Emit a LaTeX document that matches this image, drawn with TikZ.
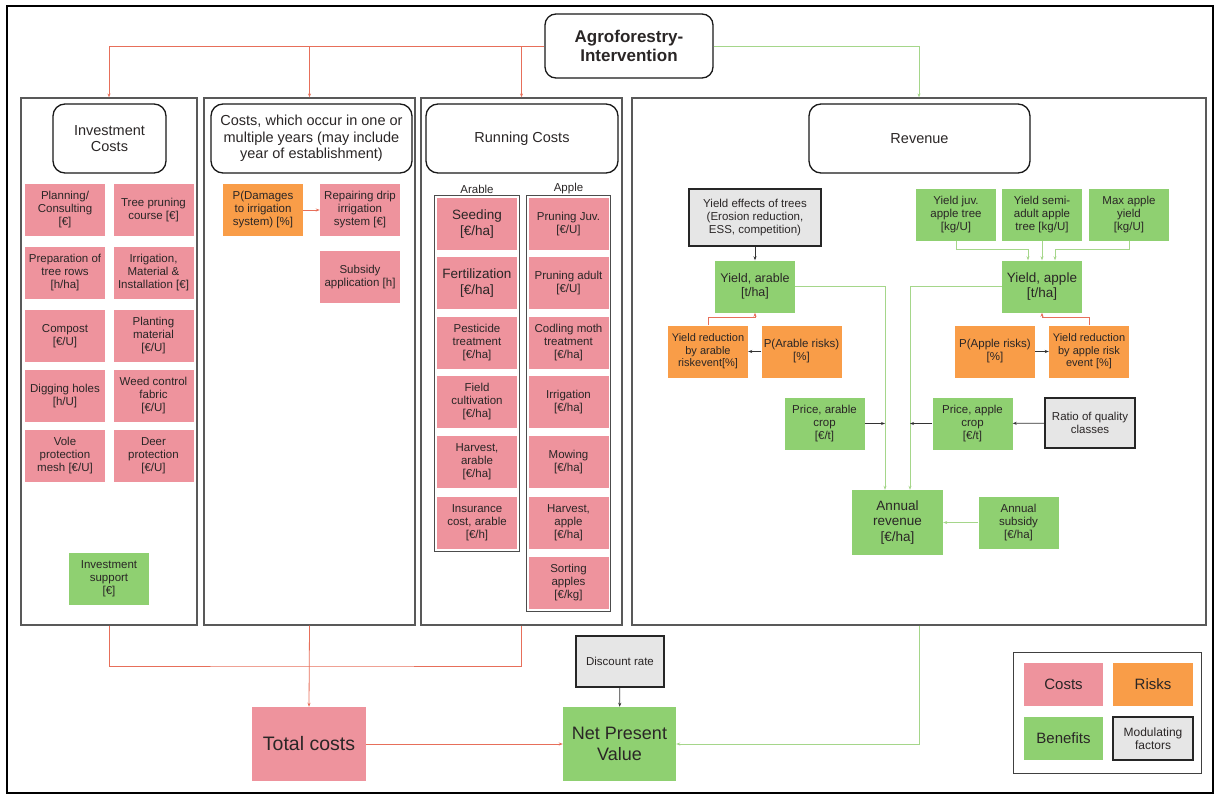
\documentclass[tikz,border=0pt]{standalone}
\usepackage{fontspec}
\setmainfont{Liberation Sans}
\usetikzlibrary{arrows.meta,positioning,fit}
\definecolor{costpink}{HTML}{EE939D}
\definecolor{riskorange}{HTML}{F99D48}
\definecolor{benefitgreen}{HTML}{8FD071}
\definecolor{modgray}{HTML}{E6E6E6}
\definecolor{linered}{HTML}{E76F5A}
\definecolor{linegreen}{HTML}{A5D68A}
\definecolor{boxtext}{HTML}{2A2626}
\tikzset{
  box/.style={minimum width=80pt, minimum height=52pt, inner sep=1pt, align=center, text=boxtext, font=\fontsize{11.5}{13}\selectfont},
  cost/.style={box, fill=costpink},
  risk/.style={box, fill=riskorange},
  benefit/.style={box, fill=benefitgreen},
  modul/.style={box, fill=modgray, draw=black!85, line width=1.6pt},
  heading/.style={draw=black!90, line width=1.3pt, rounded corners=12pt, align=center, text=boxtext, font=\fontsize{14.5}{16.5}\selectfont},
  panel/.style={draw=black!65, line width=1.2pt},
  group/.style={draw=black!70, line width=1pt, inner sep=2pt},
  grouplabel/.style={inner sep=1pt, text=boxtext, font=\fontsize{11.5}{13}\selectfont},
  big/.style={font=\fontsize{13.5}{15.5}\selectfont},
  redarrow/.style={linered, line width=0.8pt, -{Stealth[length=4pt,width=3pt]}},
  redline/.style={linered, line width=0.8pt},
  greenarrow/.style={linegreen, line width=1pt, -{Stealth[length=4pt,width=3pt]}},
  blackarrow/.style={black!80, line width=0.8pt, -{Stealth[length=4pt,width=3pt]}},
}
\begin{document}
\begin{tikzpicture}[x=1pt,y=-1pt]
\useasboundingbox (0,0) rectangle (1219,798);
\draw[line width=2pt] (7,6) rectangle (1213,793);

\node (agro) at (629,46) [draw=black!90, line width=1.3pt, rounded corners=11pt, minimum width=168pt, minimum height=64pt, align=center, text=boxtext, font=\bfseries\fontsize{17}{18.5}\selectfont] {Agroforestry-\\Intervention};

\node (p1) at (109,361.5) [panel, minimum width=176pt, minimum height=527pt] {};
\node (p2) at (309.5,361.5) [panel, minimum width=211pt, minimum height=527pt] {};
\node (p3) at (521.5,361.5) [panel, minimum width=201pt, minimum height=527pt] {};
\node (p4) at (919,361.5) [panel, minimum width=574pt, minimum height=527pt] {};

\draw[redarrow] (agro.west) -| (p1.north);
\draw[redarrow] (agro.west -| p2.north) -- (p2.north);
\draw[redarrow] (agro.west -| p3.north) -- (p3.north);
\draw[greenarrow] (agro.east) -| (p4.north);

\node (invhead) at (109.5,138.5) [heading, minimum width=113pt, minimum height=69pt] {Investment\\Costs};
\node (occhead) at (311.5,138.5) [heading, minimum width=201pt, minimum height=69pt] {Costs, which occur in one or\\multiple years (may include\\year of establishment)};
\node (runhead) at (522,138.5) [heading, minimum width=192pt, minimum height=69pt] {Running Costs};
\node (revhead) at (919.5,138.5) [heading, minimum width=221pt, minimum height=69pt] {Revenue};

\node (plan) at (65,210) [cost] {Planning/\\Consulting\\{[€]}};
\node (prune) at (153.5,210) [cost] {Tree pruning\\course [€]};
\node (prep) at (65,273) [cost] {Preparation of\\tree rows\\{[h/ha]}};
\node (irrig) at (153.5,273) [cost] {Irrigation,\\Material \&\\Installation [€]};
\node (compost) at (65,336) [cost] {Compost\\{[€/U]}};
\node (plant) at (153.5,336) [cost] {Planting\\material\\{[€/U]}};
\node (dig) at (65,396) [cost] {Digging holes\\{[h/U]}};
\node (weed) at (153.5,396) [cost] {Weed control\\fabric\\{[€/U]}};
\node (vole) at (65,456) [cost] {Vole\\protection\\mesh [€/U]};
\node (deer) at (153.5,456) [cost] {Deer\\protection\\{[€/U]}};
\node (invsup) at (109,579) [benefit] {Investment\\support\\{[€]}};

\node (pdam) at (263,210) [risk] {P(Damages\\to irrigation\\system) [\%]};
\node (repair) at (360,210) [cost] {Repairing drip\\irrigation\\system [€]};
\node (subapp) at (360,277) [cost] {Subsidy\\application [h]};
\draw[redarrow] (pdam) -- (repair);

\node (seed) at (477,224) [cost, big] {Seeding\\{[€/ha]}};
\node (fert) at (477,283) [cost, big] {Fertilization\\{[€/ha]}};
\node (pest) at (477,343) [cost] {Pesticide\\treatment\\{[€/ha]}};
\node (field) at (477,402) [cost] {Field\\cultivation\\{[€/ha]}};
\node (harvar) at (477,462) [cost] {Harvest,\\arable\\{[€/ha]}};
\node (insur) at (477,523) [cost] {Insurance\\cost, arable\\{[€/h]}};
\node (prjuv) at (568.5,224) [cost] {Pruning Juv.\\{[€/U]}};
\node (pradult) at (568.5,283) [cost] {Pruning adult\\{[€/U]}};
\node (codling) at (568.5,343) [cost] {Codling moth\\treatment\\{[€/ha]}};
\node (irriga) at (568.5,402) [cost] {Irrigation\\{[€/ha]}};
\node (mowing) at (568.5,462) [cost] {Mowing\\{[€/ha]}};
\node (harvap) at (568.5,523) [cost] {Harvest,\\apple\\{[€/ha]}};
\node (sorting) at (568.5,583) [cost] {Sorting\\apples\\{[€/kg]}};
\node (arablegrp) [group, fit=(seed)(insur)] {};
\node (applegrp) [group, fit=(prjuv)(sorting)] {};
\node (arablelbl) [grouplabel, above=0pt of arablegrp] {Arable};
\node (applelbl) [grouplabel, above=0pt of applegrp] {Apple};

\node (yeff) at (755,217.5) [modul, minimum width=132pt, minimum height=57pt] {Yield effects of trees\\(Erosion reduction,\\ESS, competition)};
\node (yarable) at (755,286.5) [benefit, font=\fontsize{12.5}{14.5}\selectfont] {Yield, arable\\{[t/ha]}};
\node (yredar) at (708,351.5) [risk, font=\fontsize{11}{12.5}\selectfont] {Yield reduction\\by arable\\riskevent[\%]};
\node (parable) at (801.5,351.5) [risk] {P(Arable risks)\\{[\%]}};
\node (yjuv) at (956,214.5) [benefit] {Yield juv.\\apple tree\\{[kg/U]}};
\node (ysemi) at (1042,214.5) [benefit] {Yield semi-\\adult apple\\tree [kg/U]};
\node (ymax) at (1129,214.5) [benefit] {Max apple\\yield\\{[kg/U]}};
\node (yapple) at (1042,286.5) [benefit, big] {Yield, apple\\{[t/ha]}};
\node (papple) at (995,351.5) [risk] {P(Apple risks)\\{[\%]}};
\node (yredap) at (1089,351.5) [risk, font=\fontsize{11}{12.5}\selectfont] {Yield reduction\\by apple risk\\event [\%]};
\node (pricear) at (824.5,423.5) [benefit] {Price, arable\\crop\\{[€/t]}};
\node (priceap) at (972.5,423.5) [benefit] {Price, apple\\crop\\{[€/t]}};
\node (ratio) at (1090,423) [modul, minimum width=90pt, minimum height=50pt] {Ratio of quality\\classes};
\node (annrev) at (897.5,522.5) [benefit, big, minimum width=91pt, minimum height=65pt] {Annual\\revenue\\{[€/ha]}};
\node (annsub) at (1018.5,522.5) [benefit] {Annual\\subsidy\\{[€/ha]}};
\coordinate (arx) at (885,300);
\coordinate (apx) at (910,300);

\draw[blackarrow] (yeff) -- (yarable);
\draw[blackarrow] (parable) -- (yredar);
\draw[blackarrow] (papple) -- (yredap);
\draw[redarrow] (yredar.north) -- ++(0,-8) -| (yarable.south);
\draw[redarrow] (yredap.north) -- ++(0,-8) -| (yapple.south);
\draw[greenarrow] (yjuv.south) -- ++(0,9) -| ([xshift=-14pt]yapple.north);
\draw[greenarrow] (ysemi) -- (yapple);
\draw[greenarrow] (ymax.south) -- ++(0,9) -| ([xshift=13pt]yapple.north);
\draw[greenarrow] (yarable.east) -- (yarable.east -| arx) -- (arx |- annrev.north);
\draw[greenarrow] (yapple.west) -- (yapple.west -| apx) -- (apx |- annrev.north);
\draw[blackarrow] (pricear.east) -- (pricear.east -| arx);
\draw[blackarrow] (priceap.west) -- (priceap.west -| apx);
\draw[blackarrow] (ratio) -- (priceap);
\draw[greenarrow] (annsub) -- (annrev);

\node (total) at (309,744) [cost, minimum width=114pt, minimum height=74pt, font=\fontsize{19.5}{22}\selectfont] {Total costs};
\node (discount) at (620,661.5) [modul, minimum width=88pt, minimum height=51pt] {Discount rate};
\node (npv) at (619.5,744) [benefit, minimum width=113pt, minimum height=74pt, font=\fontsize{18}{21}\selectfont] {Net Present\\Value};
\coordinate (cj) at (309,666);
\draw[redline] (p1.south) |- (cj) -| (p3.south);
\draw[redarrow] (p2.south) -- (total.north);
\draw[redarrow] (total) -- (npv);
\draw[blackarrow] (discount) -- (npv);
\draw[greenarrow] (p4.south) |- (npv.east);

\node (legend) at (1107,712.5) [draw=black!75, line width=1pt, minimum width=188pt, minimum height=121pt] {};
\node (lcost) at (1063.5,684.5) [cost, minimum width=79pt, minimum height=43pt, font=\fontsize{15}{17}\selectfont] {Costs};
\node (lrisk) at (1153,684.5) [risk, minimum width=80pt, minimum height=43pt, font=\fontsize{15}{17}\selectfont] {Risks};
\node (lbenefit) at (1063.5,738.5) [benefit, minimum width=79pt, minimum height=43pt, font=\fontsize{15}{17}\selectfont] {Benefits};
\node (lmodul) at (1153,738.5) [modul, minimum width=80pt, minimum height=43pt, font=\fontsize{12}{13.5}\selectfont] {Modulating\\factors};
\end{tikzpicture}
\end{document}
